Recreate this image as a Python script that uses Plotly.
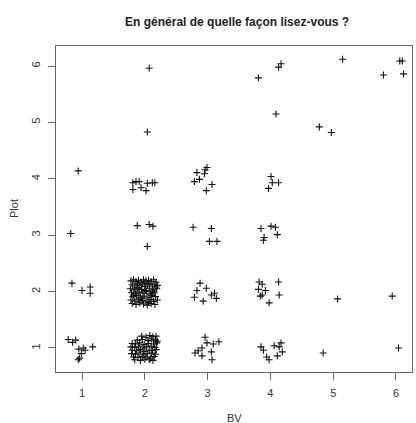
import plotly.graph_objects as go

# ---- data (BV vs Plot, jittered) ----
bv_col1 = [0.94, 0.82, 0.84, 1.00, 1.13, 1.13,
           0.78, 0.85, 0.90, 0.95, 1.02, 1.05, 1.17, 0.99, 0.96, 0.94]
plot_col1 = [4.14, 3.03, 2.15, 2.02, 2.08, 1.97,
             1.15, 1.10, 1.14, 0.98, 1.00, 0.96, 1.02, 0.90, 0.82, 0.79]

bv_col2_top = [2.07, 2.04,
               1.81, 1.86, 1.91, 1.81, 1.94, 2.02, 2.04, 2.12, 2.16,
               1.88, 2.07, 2.13, 2.04]
plot_col2_top = [5.96, 4.83,
                 3.93, 3.95, 3.95, 3.81, 3.84, 3.79, 3.92, 3.93, 3.93,
                 3.17, 3.19, 3.16, 2.80]

bv_col2_two = [1.78, 1.82, 1.86, 1.90, 1.94, 1.98, 2.02, 2.06, 2.10, 2.14, 2.18,
               1.80, 1.84, 1.88, 1.92, 1.96, 2.00, 2.04, 2.08, 2.12, 2.16, 2.20,
               1.77, 1.83, 1.89, 1.95, 2.01, 2.07, 2.13, 2.19,
               1.79, 1.85, 1.91, 1.97, 2.03, 2.09, 2.15,
               1.81, 1.87, 1.93, 1.99, 2.05, 2.11, 2.17,
               1.78, 1.84, 1.90, 1.96, 2.02, 2.08, 2.14, 2.20,
               1.80, 1.86, 1.92, 1.98, 2.04, 2.10, 2.16,
               1.82, 1.88, 1.94, 2.00, 2.06, 2.12, 2.18]
plot_col2_two = [2.19, 2.21, 2.18, 2.20, 2.17, 2.21, 2.19, 2.20, 2.18, 2.21, 2.17,
                 2.12, 2.10, 2.14, 2.11, 2.13, 2.09, 2.12, 2.14, 2.10, 2.13, 2.11,
                 2.05, 2.03, 2.06, 2.04, 2.02, 2.06, 2.03, 2.05,
                 1.98, 1.96, 1.99, 1.97, 2.00, 1.96, 1.98,
                 1.91, 1.93, 1.90, 1.92, 1.89, 1.93, 1.91,
                 1.85, 1.83, 1.86, 1.84, 1.82, 1.86, 1.83, 1.85,
                 1.79, 1.77, 1.80, 1.78, 1.76, 1.79, 1.77,
                 1.94, 2.07, 1.87, 2.15, 1.81, 2.00, 2.08]

bv_col2_one = [1.95, 2.02, 2.08, 2.13, 2.18,
               1.88, 1.96, 2.05, 2.11, 2.17, 2.20,
               1.80, 1.85, 1.92, 1.99, 2.06, 2.14, 2.19,
               1.78, 1.84, 1.90, 1.97, 2.03, 2.10, 2.16,
               1.80, 1.87, 1.93, 2.00, 2.07, 2.12, 2.18,
               1.79, 1.85, 1.91, 1.98, 2.04, 2.11, 2.17,
               1.82, 1.89, 1.96, 2.02, 2.09, 2.15,
               1.84, 1.93, 2.00, 2.07, 2.13]
plot_col2_one = [1.21, 1.19, 1.22, 1.20, 1.21,
                 1.14, 1.15, 1.13, 1.16, 1.14, 1.12,
                 1.08, 1.07, 1.09, 1.06, 1.08, 1.07, 1.09,
                 1.02, 1.01, 1.03, 1.00, 1.02, 1.03, 1.01,
                 0.96, 0.95, 0.97, 0.94, 0.96, 0.95, 0.97,
                 0.90, 0.89, 0.91, 0.88, 0.90, 0.91, 0.89,
                 0.84, 0.83, 0.85, 0.84, 0.82, 0.85,
                 0.79, 0.78, 0.80, 0.79, 0.78]

bv_col3 = [2.83, 2.96, 2.99, 2.95, 2.79, 2.87, 3.07, 2.98,
           2.77, 3.06, 3.03, 3.15,
           2.88, 2.83, 2.98, 2.79, 2.93, 3.06, 3.11, 3.14,
           2.96, 2.99, 3.09, 3.18, 2.91, 2.80, 2.85, 2.91, 3.06, 3.07]
plot_col3 = [4.11, 4.16, 4.20, 4.09, 3.95, 3.99, 3.90, 3.79,
             3.14, 3.12, 2.89, 2.89,
             2.15, 2.02, 2.06, 1.90, 1.83, 1.94, 1.97, 1.88,
             1.19, 1.09, 1.07, 1.11, 1.00, 0.91, 0.95, 0.86, 0.93, 0.79]

bv_col4 = [3.81, 4.13, 4.17, 4.09,
           4.01, 4.03, 4.13, 3.97,
           3.85, 4.01, 4.08, 4.11, 3.90, 3.89,
           3.82, 3.87, 3.81, 3.92, 3.87, 3.84, 4.13, 4.14, 3.98,
           3.85, 3.89, 4.06, 4.17, 4.14, 3.94, 3.98, 4.11, 4.19]
plot_col4 = [5.79, 5.98, 6.04, 5.15,
             4.04, 3.93, 3.93, 3.83,
             3.12, 3.16, 3.14, 3.01, 2.96, 2.91,
             2.17, 2.13, 2.04, 2.02, 1.94, 1.92, 2.17, 1.94, 1.80,
             1.02, 0.96, 1.04, 1.09, 1.02, 0.84, 0.79, 0.86, 0.93]

bv_col56 = [5.15, 4.78, 4.97, 5.07, 4.84,
            6.06, 6.10, 5.80, 6.12, 5.94, 6.04]
plot_col56 = [6.12, 4.92, 4.82, 1.87, 0.91,
              6.09, 6.09, 5.84, 5.86, 1.92, 1.00]

tick_vals = [1, 2, 3, 4, 5, 6]
tick_text = ["1", "2", "3", "4", "5", "6"]

bv = bv_col1 + bv_col2_top + bv_col2_two + bv_col2_one + bv_col3 + bv_col4 + bv_col56
plot_v = plot_col1 + plot_col2_top + plot_col2_two + plot_col2_one + plot_col3 + plot_col4 + plot_col56

FONT = "Liberation Sans, Arial, sans-serif"

fig = go.Figure(go.Scatter(
    x=bv, y=plot_v, mode="markers",
    marker=dict(symbol="cross-thin", size=5, color="#111111",
                line=dict(width=1.1, color="#111111")),
    showlegend=False, hoverinfo="skip"))

axis_common = dict(showline=True, linecolor="#666666", linewidth=1, mirror=True,
                   showgrid=False, zeroline=False, ticks="outside", ticklen=7,
                   tickcolor="#666666", tickwidth=1,
                   tickfont=dict(family=FONT, size=11, color="#333333"),
                   tickvals=tick_vals, ticktext=tick_text)

fig.update_xaxes(range=[0.586, 6.255], ticklabelstandoff=4, **axis_common)
fig.update_yaxes(range=[0.574, 6.355], tickangle=-90, ticklabelstandoff=4, **axis_common)

fig.update_layout(
    width=416, height=423,
    margin=dict(l=56, r=4, t=46, b=51),
    paper_bgcolor="white", plot_bgcolor="white",
    title=dict(text="<b>En général de quelle façon lisez-vous ?</b>",
               x=0.57, xanchor="center", y=1 - 22 / 423, yanchor="middle",
               font=dict(family=FONT, size=12, color="#222222")),
    annotations=[
        dict(text="BV", xref="paper", yref="paper", x=0.5, y=0, yshift=-46,
             xanchor="center", yanchor="middle", showarrow=False,
             font=dict(family=FONT, size=11, color="#333333")),
        dict(text="Plot", xref="paper", yref="paper", x=0, y=0.5, xshift=-42,
             xanchor="center", yanchor="middle", textangle=-90, showarrow=False,
             font=dict(family=FONT, size=11, color="#333333")),
    ],
)

fig.write_html("out.html", config={"displayModeBar": False},
               post_script="document.body.style.margin='0';document.body.style.overflow='hidden';")
